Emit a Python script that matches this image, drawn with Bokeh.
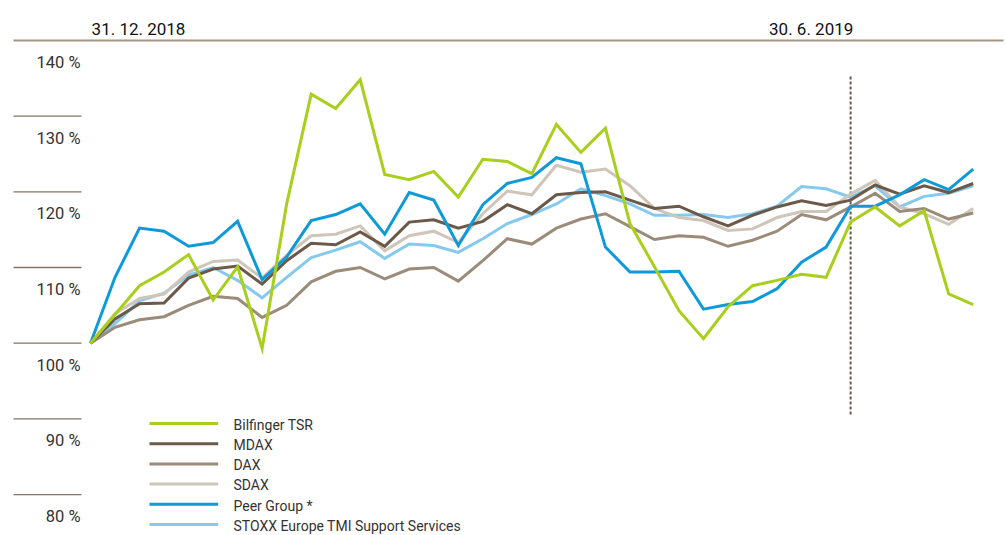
from bokeh.plotting import figure
from bokeh.models import Range1d, ColumnDataSource
from bokeh.core.properties import value
from bokeh.embed import file_html
from bokeh.resources import INLINE

# ---------------- data ----------------
weeks = list(range(37))
bilfinger_tsr = [100, 103.8, 107.6, 109.4, 111.7, 105.7, 110.1, 99.3, 118.4, 132.9, 131.0,
                 134.8, 122.3, 121.6, 122.7, 119.3, 124.3, 124.0, 122.4, 128.9, 125.2,
                 128.4, 115.8, 110.1, 104.3, 100.6, 104.8, 107.6, 108.3, 109.1, 108.7,
                 116.0, 118.0, 115.5, 117.5, 106.5, 105.1]
mdax = [100, 103.2, 105.2, 105.3, 108.6, 109.8, 110.2, 107.8, 110.9, 113.2, 113.0,
        114.7, 112.8, 116.0, 116.3, 115.2, 116.1, 118.3, 117.1, 119.6, 119.9,
        120.0, 118.9, 117.8, 118.1, 116.7, 115.5, 116.9, 118.0, 118.8, 118.2,
        118.9, 120.9, 119.7, 120.8, 119.9, 121.1]
dax = [100, 102.1, 103.1, 103.5, 105.0, 106.2, 105.9, 103.4, 105.0, 108.1, 109.5,
       110.0, 108.5, 109.8, 110.0, 108.2, 110.9, 113.8, 113.1, 115.2, 116.4,
       117.1, 115.4, 113.7, 114.2, 114.0, 112.8, 113.6, 114.8, 117.0, 116.3,
       118.0, 119.8, 117.4, 117.8, 116.4, 117.2]
sdax = [100, 103.9, 105.9, 106.5, 109.4, 110.8, 111.0, 108.6, 111.6, 114.2, 114.4,
        115.5, 112.2, 114.2, 114.8, 113.3, 117.1, 120.1, 119.6, 123.5, 122.6,
        123.0, 120.8, 117.8, 116.6, 116.2, 114.9, 115.1, 116.6, 117.4, 117.4,
        119.7, 121.5, 118.0, 117.1, 115.7, 117.8]
peer_group = [100, 108.7, 115.2, 114.8, 112.8, 113.3, 116.1, 108.4, 111.4, 116.2, 117.0,
              118.4, 114.4, 119.9, 118.9, 112.9, 118.3, 121.1, 121.9, 124.5, 123.7,
              112.7, 109.4, 109.4, 109.5, 104.5, 105.1, 105.5, 107.2, 110.7, 112.7,
              118.1, 118.1, 119.6, 121.6, 120.3, 123.0]
stoxx_support = [100, 102.6, 105.6, 106.6, 109.0, 110.0, 108.3, 106.0, 108.7, 111.3, 112.3,
                 113.4, 111.2, 113.1, 112.9, 112.0, 113.8, 115.8, 117.0, 118.4, 120.4,
                 119.5, 118.4, 116.9, 116.9, 117.0, 116.6, 117.1, 118.1, 120.7, 120.4,
                 119.3, 120.8, 118.0, 119.4, 119.8, 120.8]

series_names = ["Bilfinger TSR", "MDAX", "DAX", "SDAX", "Peer Group *",
                "STOXX Europe TMI Support Services"]
y_ticks = [140, 130, 120, 110, 100, 90, 80]
y_tick_labels = ["140 %", "130 %", "120 %", "110 %", "100 %", "90 %", "80 %"]
date_labels = ["31. 12. 2018", "30. 6. 2019"]
marker_week = 31

# ---------------- layout / styles ----------------
series_values = [bilfinger_tsr, mdax, dax, sdax, peer_group, stoxx_support]
colors = ["#a8cf1c", "#6b5a49", "#9b8b79", "#d0c5b9", "#0e9ad8", "#86c9ee"]
draw_order = [5, 3, 2, 1, 4, 0]

FONT = "Roboto"
W, H = 1006, 535
PAGE = 0
X0, DX = 90.0, 24.52   # px of week 0, px per week
Y0, DY = 342.7, 7.57   # px of 100 %, px per percent


def dx(px):
    return (px - X0) / DX


def dy(py):
    return 100 + (Y0 - py) / DY


p = figure(width=W, height=H, output_backend="svg", toolbar_location=None,
           x_range=Range1d(dx(PAGE), dx(PAGE + W)),
           y_range=Range1d(dy(PAGE + H), dy(PAGE)),
           x_axis_type=None, y_axis_type=None, min_border=0)
p.grid.visible = False
p.outline_line_color = None
p.background_fill_color = "white"
p.border_fill_color = "white"

# horizontal reference lines + tick labels
top_tick = max(y_ticks)
short_ticks = [t for t in y_ticks if t != top_tick]
p.segment(x0=[dx(13)] * len(short_ticks), x1=[dx(81)] * len(short_ticks),
          y0=short_ticks, y1=short_ticks, line_color="#85735f", line_width=1.3)
p.segment(x0=[dx(13)], x1=[dx(1003)], y0=[top_tick], y1=[top_tick],
          line_color="#a29584", line_width=2)
p.text(x=[dx(80)] * len(y_ticks), y=[t - 22 / DY for t in y_ticks], text=y_tick_labels,
       text_align="right", text_baseline="alphabetic", text_font=value(FONT),
       text_font_size="16.5px", text_color="#333333")

# date header
p.text(x=[dx(138), dx(810.7)], y=[dy(28.3)] * 2, text=date_labels,
       text_align="center", text_baseline="alphabetic", text_font=value(FONT),
       text_font_size="17px", text_color="#111111")

# marker line
p.segment(x0=[marker_week], x1=[marker_week], y0=[dy(76)], y1=[dy(415)],
          line_color="#6b5a49", line_width=2, line_dash="3 2")

# series
for i in draw_order:
    p.line(weeks, series_values[i], line_color=colors[i], line_width=3,
           line_join="miter")

# legend
for k, (name, col) in enumerate(zip(series_names, colors)):
    ry = 423 + 20.2 * k
    p.segment(x0=[dx(149)], x1=[dx(217.7)], y0=[dy(ry)], y1=[dy(ry)],
              line_color=col, line_width=3)
    p.text(x=[dx(233)], y=[dy(ry + 1.2)], text=[name], text_align="left",
           text_baseline="alphabetic", text_font=value(FONT),
           text_font_size="14px", text_color="#333333")

open("out.html", "w").write(file_html(p, INLINE))
